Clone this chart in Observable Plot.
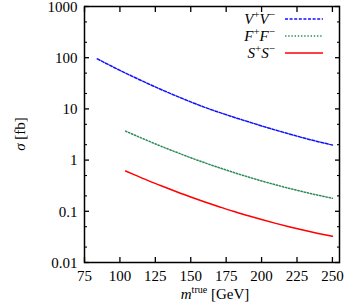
<!DOCTYPE html>
<html><head><meta charset="utf-8">
<script src="https://cdn.jsdelivr.net/npm/d3@7"></script>
<script src="https://cdn.jsdelivr.net/npm/@observablehq/plot@0.6"></script>
<style>body{margin:0;background:#fff}</style>
</head><body><div id="chart"></div>
<script>
// m^true [GeV]
const massV = [84, 90, 100, 110, 120, 130, 140, 150, 160, 170, 180, 190, 200, 210, 220, 230, 240, 250];
const sigmaVV = [95.1, 77.9, 56.6, 41.7, 31.0, 23.3, 17.8, 13.7, 10.7, 8.57, 6.93, 5.68, 4.65, 3.85, 3.21, 2.69, 2.29, 1.97];
const massFS = [104, 110, 120, 130, 140, 150, 160, 170, 180, 190, 200, 210, 220, 230, 240, 250];
const sigmaFF = [3.68, 3.11, 2.37, 1.82, 1.42, 1.11, 0.885, 0.711, 0.577, 0.473, 0.392, 0.329, 0.278, 0.238, 0.206, 0.180];
const sigmaSS = [0.612, 0.519, 0.397, 0.308, 0.241, 0.190, 0.152, 0.123, 0.100, 0.0827, 0.0689, 0.0581, 0.0494, 0.0425, 0.0370, 0.0325];

const xTicks = [75, 100, 125, 150, 175, 200, 225, 250];
const yTicks = [0.01, 0.1, 1, 10, 100, 1000];
const yTickLabels = ["0.01", "0.1", "1", "10", "100", "1000"];
const yMinor = [0.02, 0.05, 0.2, 0.5, 2, 5, 20, 50, 200, 500];

const seriesBase = ["V", "F", "S"];
const seriesColors = ["#1010ff", "#2e8b57", "#ff0000"];
const seriesDash = ["3,1.6", "1.4,1.8", null];

const vv = massV.map((m, i) => ({m, s: sigmaVV[i]}));
const ff = massFS.map((m, i) => ({m, s: sigmaFF[i]}));
const ss = massFS.map((m, i) => ({m, s: sigmaSS[i]}));
const seriesData = [vv, ff, ss];

const font = "Liberation Serif, Times New Roman, serif";

const plot = Plot.plot({
  width: 347, height: 307,
  marginLeft: 84, marginRight: 8, marginTop: 6, marginBottom: 45,
  style: {fontFamily: font, fontSize: "15px", color: "black", background: "white"},
  x: {domain: [75, 255]},
  y: {type: "log", domain: [0.01, 1000]},
  marks: [
    ...seriesData.map((d, i) => Plot.line(d, {x: "m", y: "s", stroke: seriesColors[i], strokeWidth: 1.5, strokeDasharray: seriesDash[i], curve: "monotone-x"})),
    Plot.axisX(xTicks, {anchor: "bottom", tickSize: 0, tickPadding: 8, label: null, fontSize: 15}),
    Plot.axisX(xTicks, {anchor: "bottom", tickSize: -5, fill: "none", strokeWidth: 1.3, label: null}),
    Plot.axisX(xTicks, {anchor: "top", tickSize: -5, fill: "none", strokeWidth: 1.3, label: null}),
    Plot.axisY(yTicks, {anchor: "left", tickSize: 0, tickPadding: 7, label: null, fontSize: 15, dy: 0.5, tickFormat: d => yTickLabels[yTicks.indexOf(d)]}),
    Plot.axisY(yTicks, {anchor: "left", tickSize: -5, fill: "none", strokeWidth: 1.3, label: null}),
    Plot.axisY(yTicks, {anchor: "right", tickSize: -5, fill: "none", strokeWidth: 1.3, label: null}),
    Plot.axisY(yMinor, {anchor: "left", tickSize: -3, fill: "none", strokeWidth: 1.1, label: null}),
    Plot.axisY(yMinor, {anchor: "right", tickSize: -3, fill: "none", strokeWidth: 1.1, label: null}),
    Plot.frame({stroke: "black", strokeWidth: 1.5})
  ]
});
document.getElementById("chart").appendChild(plot);

const svg = d3.select(plot);
// legend
const legendRows = [19, 36, 53];
seriesBase.forEach((b, i) => {
  const t = svg.append("text").attr("x", 275).attr("y", legendRows[i]).attr("dy", "0.33em")
    .attr("text-anchor", "end").attr("font-family", font).attr("font-size", 15).attr("fill", "black");
  t.append("tspan").attr("font-style", "italic").text(b);
  t.append("tspan").attr("font-size", 11).attr("dy", -6).text("+");
  t.append("tspan").attr("font-style", "italic").attr("dy", 6).text(b);
  t.append("tspan").attr("font-size", 11).attr("dy", -6).text("\u2212");
  const l = svg.append("line").attr("x1", 285).attr("x2", 323).attr("y1", legendRows[i]).attr("y2", legendRows[i])
    .attr("stroke", seriesColors[i]).attr("stroke-width", 1.5);
  if (seriesDash[i]) l.attr("stroke-dasharray", seriesDash[i]);
});
// y label
const yl = svg.append("text").attr("transform", "translate(20,134) rotate(-90)").attr("dy", "0.33em")
  .attr("text-anchor", "middle").attr("font-family", font).attr("font-size", 15);
yl.append("tspan").attr("font-style", "italic").text("\u03C3");
yl.append("tspan").text(" [fb]");
// x label
const xl = svg.append("text").attr("x", 215).attr("y", 299)
  .attr("text-anchor", "middle").attr("font-family", font).attr("font-size", 15);
xl.append("tspan").attr("font-style", "italic").text("m");
xl.append("tspan").attr("font-size", 10).attr("dy", -6).text("true");
xl.append("tspan").attr("dy", 6).text(" [GeV]");
</script>
</body></html>
